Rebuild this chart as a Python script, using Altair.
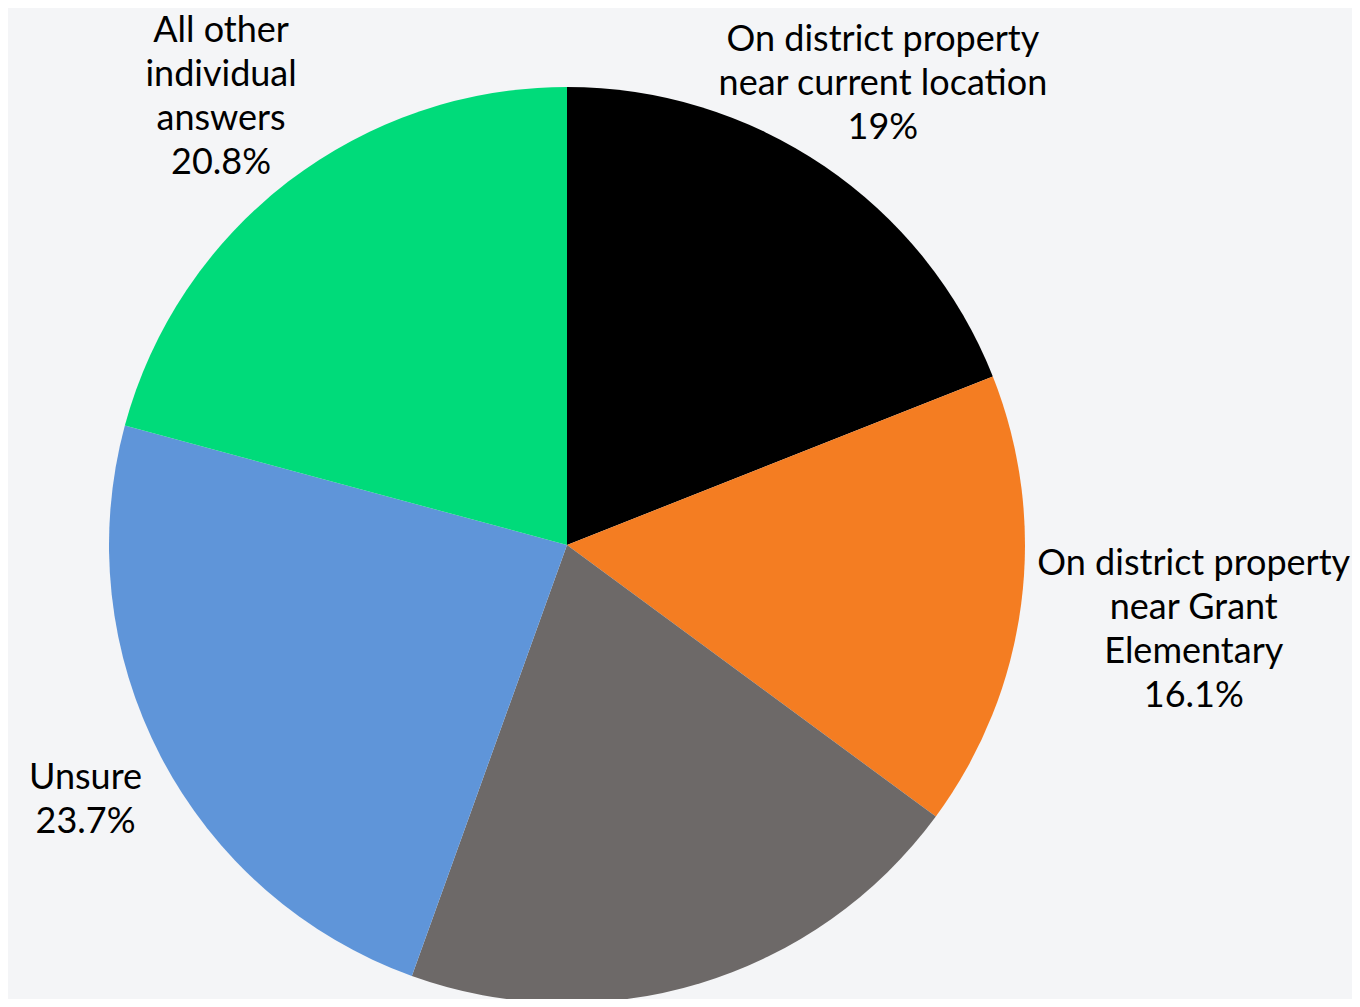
import math
import altair as alt
import pandas as pd

# Data
categories = [
    "On district property near current location",
    "On district property near Grant Elementary",
    "Unlabeled",
    "Unsure",
    "All other individual answers",
]
values = [19.0, 16.1, 20.4, 23.7, 20.8]
labels = [
    "On district property\nnear current location\n19%",
    "On district property\nnear Grant\nElementary\n16.1%",
    "",
    "Unsure\n23.7%",
    "All other\nindividual\nanswers\n20.8%",
]

# Styling / layout
colors = ["#000000", "#f47d22", "#6d6968", "#5f95d9", "#00db7a"]
label_radius = [562, 632, 0, 543, 569]
LINE_H = 44
Y_NUDGE = 4

df = pd.DataFrame({
    "category": categories,
    "value": values,
    "label": labels,
    "idx": list(range(len(categories))),
    "lr": label_radius,
})

CX, CY, R = 559, 537, 458

arcs = alt.Chart(df).mark_arc(outerRadius=R, strokeWidth=0).encode(
    theta=alt.Theta("value:Q", stack=True),
    order=alt.Order("idx:Q", sort="ascending"),
    color=alt.Color("category:N", scale=alt.Scale(domain=categories, range=colors), legend=None),
    x=alt.value(CX),
    y=alt.value(CY),
)

# label block centred on the slice's mid angle; shift so that multi-line block is centred
texts = alt.Chart(df).transform_joinaggregate(
    total="sum(value)"
).transform_window(
    cum="sum(value)", sort=[alt.SortField("idx", order="ascending")], frame=[None, 0]
).transform_calculate(
    a="2 * PI * (datum.cum - datum.value / 2) / datum.total",
    n="length(split(datum.label, '\\n'))",
).transform_calculate(
    px="datum.lr * sin(datum.a)",
    py=f"-datum.lr * cos(datum.a) - (datum.n - 1) * {LINE_H / 2} + {Y_NUDGE}",
).transform_calculate(
    r2="sqrt(datum.px * datum.px + datum.py * datum.py)",
    t2="((atan2(datum.px, -datum.py) / (2 * PI)) + 1) % 1",
).mark_text(
    font="Lato",
    fontSize=36,
    lineBreak="\n",
    lineHeight=LINE_H,
    align="center",
    baseline="middle",
    color="#000000",
).encode(
    theta=alt.Theta("t2:Q", stack=None, scale=alt.Scale(domain=[0, 1], range=[0, 2 * math.pi])),
    radius=alt.Radius("r2:Q", scale=None, stack=None),
    text="label:N",
    x=alt.value(CX),
    y=alt.value(CY),
)

chart = alt.layer(arcs, texts).resolve_scale(
    theta="independent", radius="independent"
).properties(
    width=1344,
    height=991,
    autosize=alt.AutoSizeParams(type="none"),
    padding=0,
    background="#f4f5f7",
).configure_view(stroke=None)

chart.save("out.html", embed_options={"renderer": "svg", "actions": False})
